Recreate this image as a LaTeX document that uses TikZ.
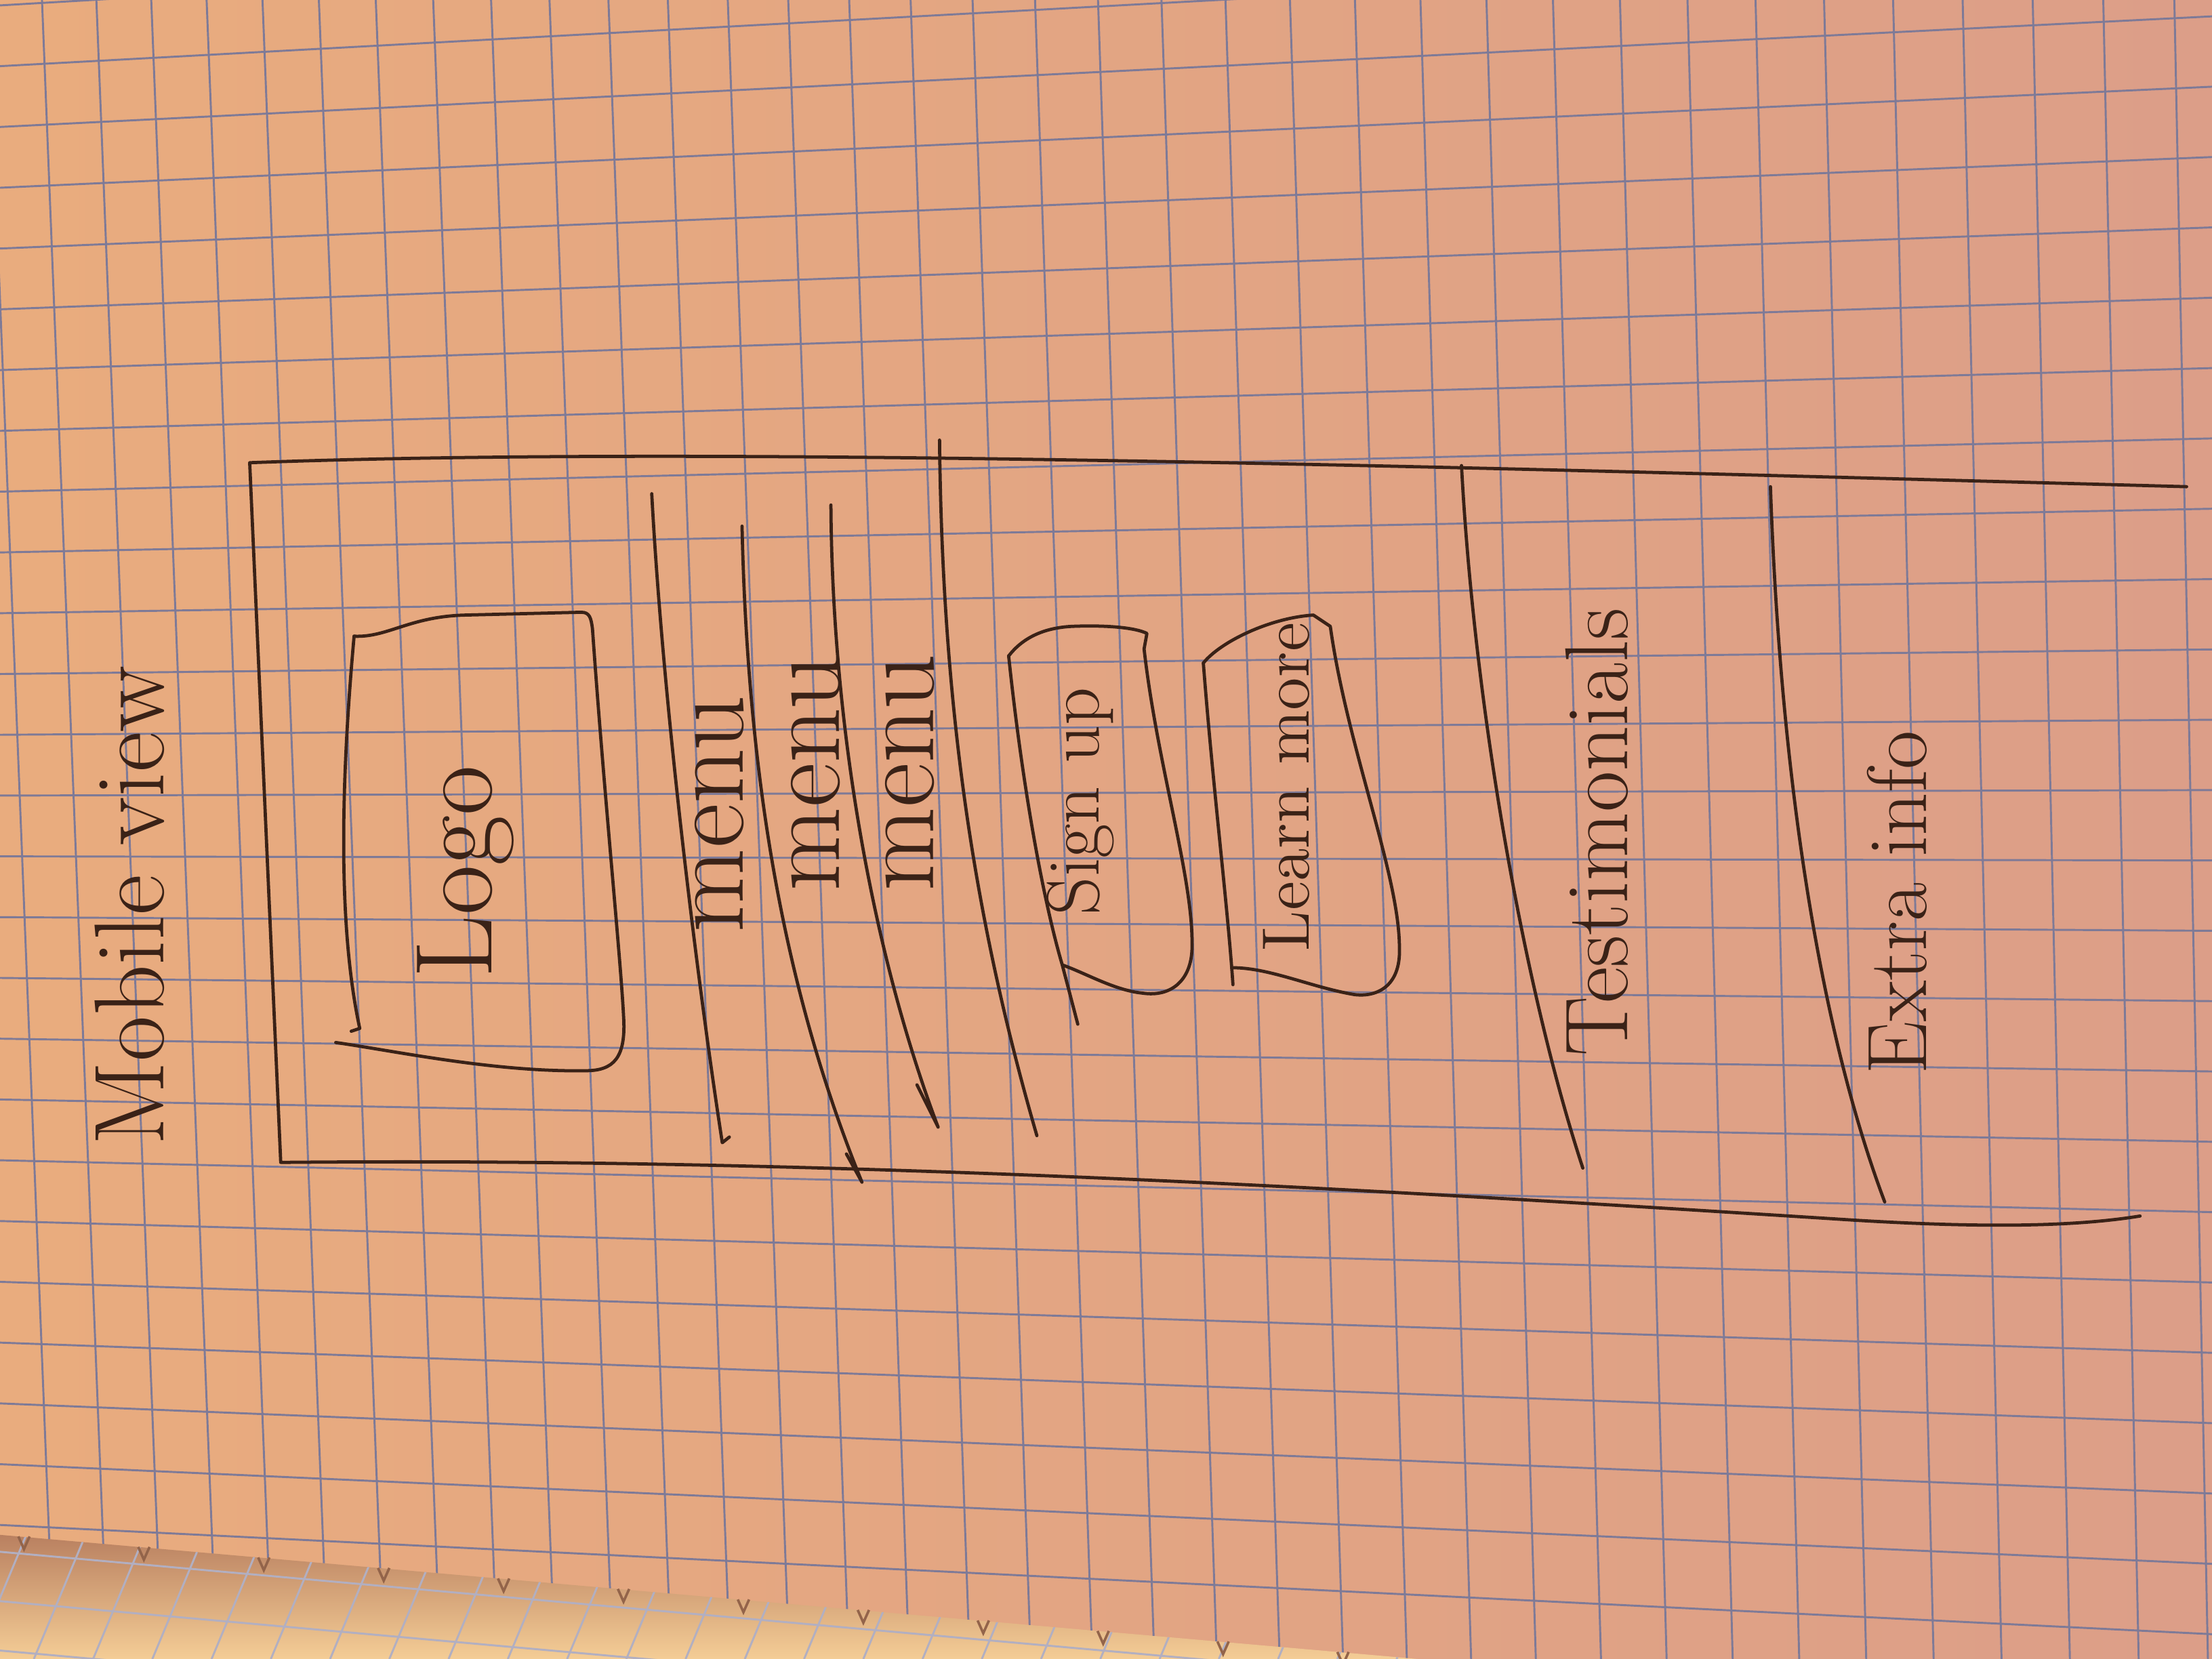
\documentclass[tikz,border=0pt]{standalone}
\usetikzlibrary{calc}
\definecolor{paperL}{HTML}{E9AC7E}
\definecolor{paperR}{HTML}{DC9E88}
\definecolor{paperlow}{HTML}{F4CD96}
\definecolor{shadow}{HTML}{B98060}
\definecolor{gridblue}{HTML}{7E7A97}
\definecolor{ink}{HTML}{3A2217}

\begin{document}
\begin{tikzpicture}[x=0.01cm,y=-0.01cm,
    pen/.style={draw=ink,line width=0.65pt,line cap=round,line join=round},
    gridline/.style={draw=gridblue,line width=0.4pt},
    hand/.style={rotate=90,text=ink,inner sep=0pt}]
  \useasboundingbox (0,0) rectangle (1568,1176);
  % paper
  \shade[left color=paperL,right color=paperR] (0,0) rectangle (1568,1176);
  % page underneath
  \shade[top color=shadow,bottom color=paperlow] (0,1088) -- (1005,1176) -- (0,1176) -- cycle;
  \begin{scope}
    \clip (0,1088) -- (1005,1176) -- (0,1176) -- cycle;
    \foreach \i in {0,...,30}
      \draw[gridline,draw=gridblue!60] ({-60+42*\i},1176) -- ({-20+42*\i},1080);
    \foreach \j in {0,...,4}
      \draw[gridline,draw=gridblue!60] (0,{1100+35*\j}) -- (1005,{1190+35*\j});
  \end{scope}
  % squared grid of the sheet
  \begin{scope}
    \clip (0,0) -- (1568,0) -- (1568,1176) -- (1005,1176) -- (0,1088) -- cycle;
    \foreach \i in {0,...,42}
      \draw[gridline] ({-10+38*\i+0.18*\i*\i},-40) -- ({40+38*\i+0.16*\i*\i},1220);
    \foreach \j in {0,...,28}
      \draw[gridline] (-20,{5+43*\j}) -- (1600,{-90+50*\j});
  \end{scope}
  % perforation of the sheet
  \foreach \x in {13,98,...,1000}
    \draw[draw=shadow!70!ink,line width=0.5pt] (\x,{1088+0.0876*\x}) -- ++(4,9) -- ++(4,-9);

  % phone frame
  \draw[pen] (1550,345) .. controls (1000,330) and (500,316) .. (177,328)
    -- (199,824) .. controls (600,820) and (1000,845) .. (1300,864)
    .. controls (1420,872) and (1480,868) .. (1517,862);
  % logo box
  \draw[pen] (251,451) .. controls (275,452) and (290,437) .. (330,436) -- (412,434)
    .. controls (418,434) and (419,438) .. (420,446)
    .. controls (428,560) and (440,680) .. (442,720)
    .. controls (444,750) and (435,759) .. (415,759)
    .. controls (350,760) and (280,745) .. (238,739);
  \draw[pen] (251,451) .. controls (243,540) and (238,650) .. (255,729) -- (249,731);
  \node[hand,font=\fontsize{22}{26}\selectfont] (logo) at (330,618) {Logo};
  % menu rows
  \draw[pen] (462,350) .. controls (470,500) and (495,700) .. (512,810) -- (517,806);
  \draw[pen] (526,373) .. controls (530,550) and (555,700) .. (611,838) -- (600,818);
  \draw[pen] (589,358) .. controls (590,520) and (620,680) .. (665,799) -- (650,769);
  \draw[pen] (666,312) .. controls (668,500) and (690,650) .. (735,805);
  \node[hand,font=\fontsize{22}{26}\selectfont] (menuA) at (510,577) {menu};
  \node[hand,font=\fontsize{22}{26}\selectfont] (menuB) at (578,548) {menu};
  \node[hand,font=\fontsize{22}{26}\selectfont] (menuC) at (645,548) {menu};
  % buttons
  \draw[pen] (715,465) .. controls (725,452) and (740,445) .. (760,444)
    .. controls (785,443) and (805,445) .. (813,449) -- (811,460)
    .. controls (820,540) and (845,620) .. (845,668)
    .. controls (846,695) and (830,707) .. (810,704)
    .. controls (790,702) and (770,690) .. (753,684);
  \draw[pen] (715,465) .. controls (725,560) and (740,640) .. (753,684) -- (764,726);
  \node[hand,font=\fontsize{15}{18}\selectfont] (signup) at (766,568) {Sign up};
  \draw[pen] (853,470) .. controls (865,455) and (900,438) .. (931,436) -- (943,444)
    .. controls (955,530) and (992,620) .. (992,672)
    .. controls (993,700) and (975,707) .. (960,705)
    .. controls (930,700) and (900,686) .. (874,686);
  \draw[pen] (853,470) .. controls (860,560) and (870,640) .. (874,698);
  \node[hand,font=\fontsize{13.5}{16}\selectfont] (learn) at (912,558) {Learn more};
  % lower sections
  \draw[pen] (1036,330) .. controls (1045,500) and (1080,700) .. (1122,828);
  \node[hand,font=\fontsize{18}{22}\selectfont] (testimonials) at (1132,590) {Testimonials};
  \draw[pen] (1255,345) .. controls (1262,550) and (1290,730) .. (1336,852);
  \node[hand,font=\fontsize{17}{20}\selectfont] (extra) at (1345,640) {Extra info};
  % title
  \node[hand,font=\fontsize{20}{24}\selectfont] (title) at (92,642) {Mobile view};
\end{tikzpicture}
\end{document}
